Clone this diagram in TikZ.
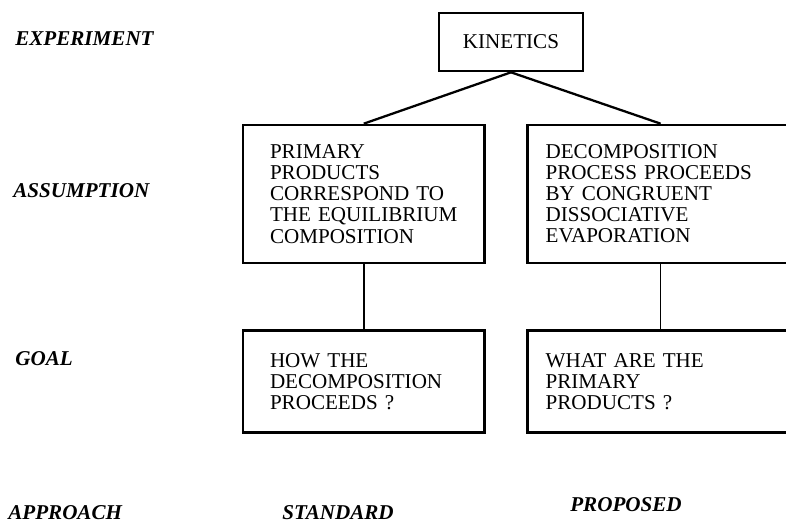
\documentclass[tikz,border=0pt]{standalone}
\usepackage{fontspec}
\setmainfont{Liberation Serif}
\usetikzlibrary{positioning}

\begin{document}
\begin{tikzpicture}[
    node distance=1.3cm and 0.81cm,
    box/.style={rectangle, draw=black, line width=1.5pt, align=left, font=\fontsize{12}{12}\selectfont, inner ysep=0pt},
    leftbox/.style={box, text width=3.75cm, inner xsep=0.54cm},
    rightbox/.style={box, text width=4.6cm, inner xsep=0.36cm},
    topbox/.style={box, align=center, minimum width=2.88cm, minimum height=1.16cm},
    rowlabel/.style={font=\fontsize{12}{12}\selectfont\bfseries\itshape, anchor=base west, inner sep=0pt},
    link/.style={draw=black, line width=0.9pt},
]
\useasboundingbox (0,0) rectangle (15.72,10.44);
\clip (0,0) rectangle (15.72,10.44);

% Row labels
\node[rowlabel] (lexp) at (0.3,9.52) {EXPERIMENT};
\node[rowlabel] (lass) at (0.26,6.5) {ASSUMPTION};
\node[rowlabel] (lgoal) at (0.3,3.14) {GOAL};
\node[rowlabel] (lapp) at (0.16,0.05) {APPROACH};

% Experiment
\node[topbox] (kin) at (10.22,9.6) {KINETICS};

% Assumptions
\node[leftbox, minimum height=2.76cm] (prim) at (7.275,6.56) {PRIMARY\\PRODUCTS\\CORRESPOND TO\\THE EQUILIBRIUM\\COMPOSITION};
\node[rightbox, minimum height=2.76cm, right=of prim] (decomp) {DECOMPOSITION\\PROCESS PROCEEDS\\BY CONGRUENT\\DISSOCIATIVE\\EVAPORATION};

% Goals
\node[leftbox, minimum height=2.04cm, below=of prim] (how) {HOW THE\\DECOMPOSITION\\PROCEEDS ?};
\node[rightbox, minimum height=2.04cm, below=of decomp] (what) {WHAT ARE THE\\PRIMARY\\PRODUCTS ?};

% Approaches
\node[rowlabel] (std) at (5.64,0.05) {STANDARD};
\node[rowlabel] (prop) at (11.4,0.22) {PROPOSED};

% Connections
\draw[link, line width=1.3pt] (kin.south) -- (prim.north);
\draw[link, line width=1.3pt] (kin.south) -- (decomp.north);
\draw[link] (prim.south) -- (how.north);
\draw[link] (decomp.south) -- (what.north);

\end{tikzpicture}
\end{document}
